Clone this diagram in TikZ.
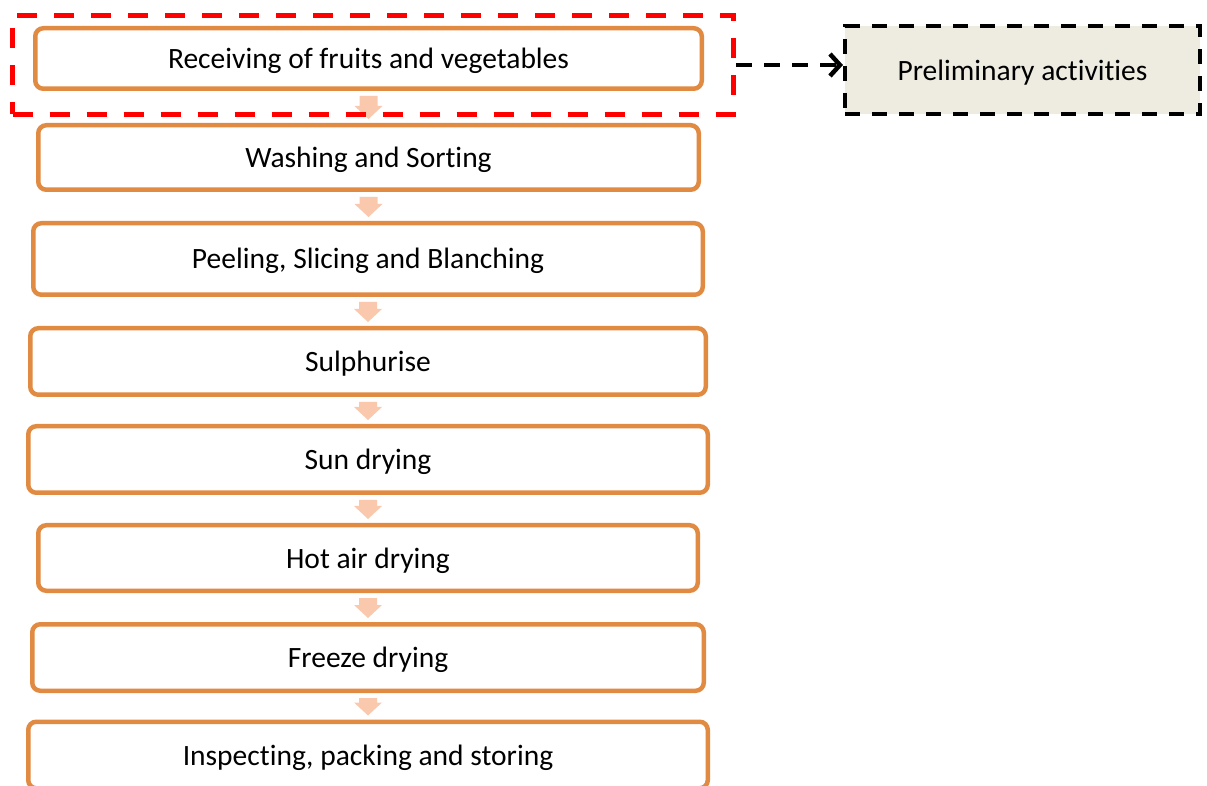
\documentclass[tikz,border=0pt]{standalone}
\usepackage{fontspec}
\setmainfont{Carlito}[Ligatures={NoCommon}]
\usetikzlibrary{calc,arrows.meta}
\definecolor{boxorange}{RGB}{225,138,66}
\definecolor{arrowpeach}{RGB}{250,200,172}
\definecolor{notefill}{RGB}{238,236,225}
\newcommand\flowarrow[2]{%
  \fill[arrowpeach] let \p1=(#1.south), \p2=(#2.north) in
    (\x1-9pt,\y1-5pt) -- (\x1+9pt,\y1-5pt) -- (\x1+9pt,\y2+17pt)
    -- (\x1+14pt,\y2+17pt) -- (\x1,\y2+4pt) -- (\x1-14pt,\y2+17pt)
    -- (\x1-9pt,\y2+17pt) -- cycle;}
\begin{document}
\begin{tikzpicture}[x=1pt,y=1pt,
  every node/.style={font=\fontsize{29.5}{34}\selectfont, inner sep=0pt,
    text height=24pt, text depth=4pt},
  stage/.style={draw=boxorange, line width=4.5pt, rounded corners=8pt,
    fill=white, minimum width=#1},
  stage/.default=670pt,
  note/.style={draw=black, line width=4pt, dash pattern=on 15pt off 12pt,
    fill=notefill},
  group/.style={draw=red, line width=5.5pt, dash pattern=on 20pt off 17pt},
  link/.style={draw=black, line width=4pt, dash pattern=on 16pt off 12pt,
    -{Straight Barb[length=10pt,width=22pt,line width=4.5pt]}}]
\useasboundingbox (0,0) rectangle (1207,785);

% process stages
\node[stage=666.5pt, minimum height=60.5pt] (s1) at (368.5,726.5) {Receiving of fruits and vegetables};
\node[stage=660.5pt, minimum height=64.5pt] (s2) at (368.5,627.5) {Washing and Sorting};
\node[stage=669.5pt, minimum height=71.5pt] (s3) at (368,526) {Peeling, Slicing and Blanching};
\node[stage=675.5pt, minimum height=66.5pt] (s4) at (368,423.5) {Sulphurise};
\node[stage=679.5pt, minimum height=66.5pt] (s5) at (368,325.5) {Sun drying};
\node[stage=659.5pt, minimum height=65.5pt] (s6) at (368,227) {Hot air drying};
\node[stage=671.5pt, minimum height=66.5pt] (s7) at (368,127.5) {Freeze drying};
\node[stage=679.5pt, minimum height=66.5pt] (s8) at (368,30) {Inspecting, packing and storing};

% flow between stages
\flowarrow{s1}{s2}
\flowarrow{s2}{s3}
\flowarrow{s3}{s4}
\flowarrow{s4}{s5}
\flowarrow{s5}{s6}
\flowarrow{s6}{s7}
\flowarrow{s7}{s8}

% preliminary group and its label
\node[group, minimum width=721pt, minimum height=99pt] (grp) at (373,720) {};
\node[note, minimum width=355pt, minimum height=87.5pt] (pre) at (1022.5,714.75) {Preliminary activities};
\draw[link] (grp.east) -- (grp.east -| pre.west);
\end{tikzpicture}
\end{document}
